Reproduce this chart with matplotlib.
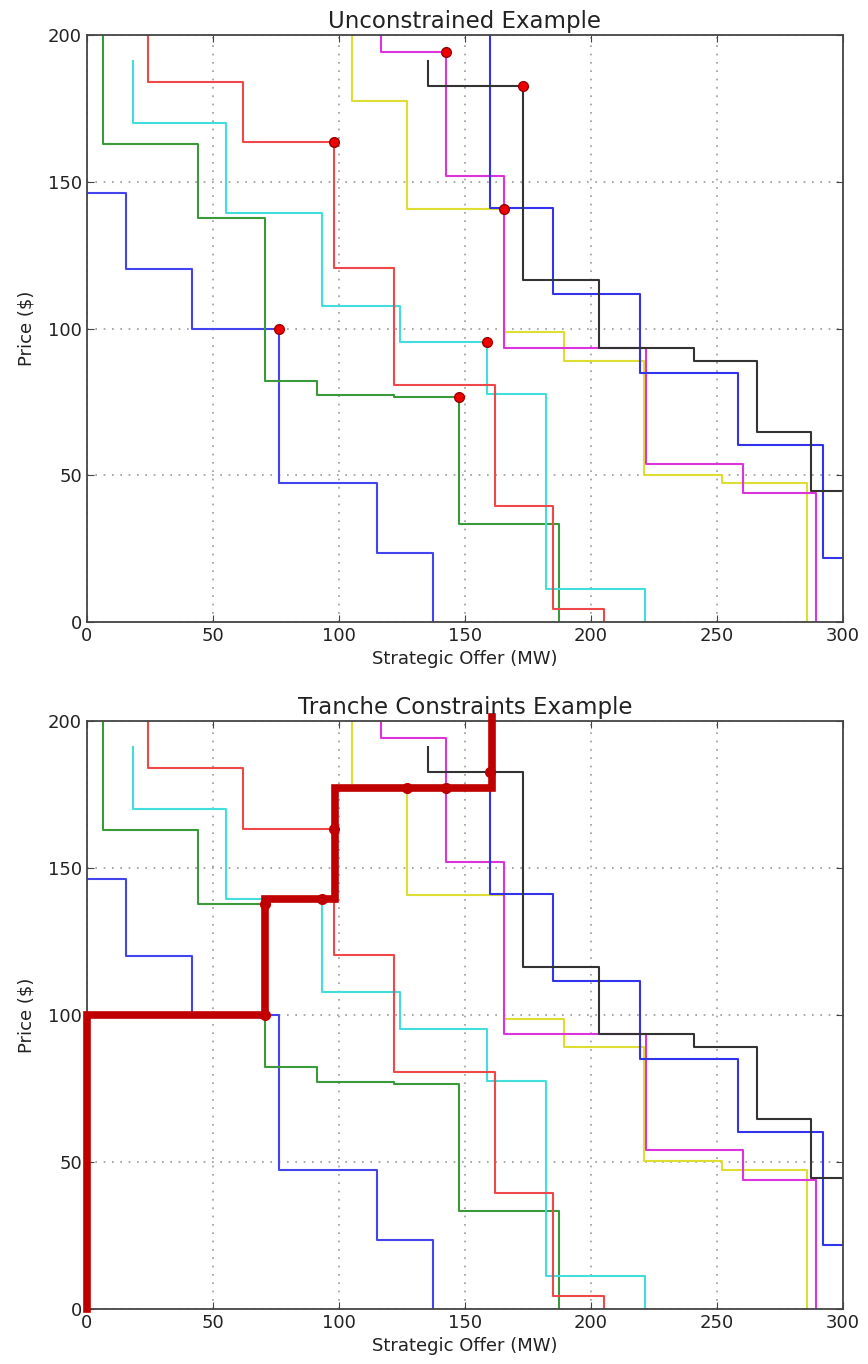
import matplotlib
matplotlib.use('Agg')
import matplotlib.pyplot as plt

# Offer curves: (cumulative MW, price) break points, drawn as steps
blue1_mw = [0, 15.5, 41.5, 76.3, 115.2, 137.3, 137.3]
blue1_price = [146.3, 146.3, 120.2, 100, 47.2, 23.5, 0]

green_mw = [6.2, 44.1, 70.8, 91.2, 122, 147.5, 187.3, 187.3]
green_price = [210, 162.8, 137.8, 82.2, 77.2, 76.6, 33.5, 0]

cyan_mw = [18.4, 55.1, 93.4, 124.4, 158.7, 182, 221.5, 221.5]
cyan_price = [191.2, 170, 139.5, 107.7, 95.3, 77.6, 11.3, 0]

red_mw = [24.1, 62.1, 98.2, 122, 162, 184.8, 205.2, 205.2]
red_price = [210, 184.1, 163.4, 120.5, 80.7, 39.5, 4.4, 0]

yellow_mw = [105.1, 126.8, 165.3, 189.4, 221.2, 251.8, 285.8, 285.8]
yellow_price = [210, 177.5, 140.7, 98.7, 89.1, 50.2, 47.4, 0]

magenta_mw = [116.6, 142.4, 165.3, 221.7, 260.2, 289.1, 289.1]
magenta_price = [210, 194.3, 152, 93.5, 54, 43.9, 0]

blue2_mw = [160, 184.8, 219.3, 258.4, 292.2, 300]
blue2_price = [210, 141.2, 111.6, 85, 60.3, 21.8]

black_mw = [135.2, 173, 203.2, 240.9, 265.8, 287.3, 300]
black_price = [191.2, 182.5, 116.4, 93.5, 89.1, 64.7, 44.6]

# dispatch points
free_mw = [142.4, 173, 98.2, 165.3, 76.3, 158.7, 147.5]
free_price = [194.3, 182.5, 163.4, 140.7, 100, 95.3, 76.6]

tranche_mw = [70.8, 70.8, 93.4, 98.2, 126.8, 142.4, 160]
tranche_price = [100, 137.8, 139.5, 163.4, 177.3, 177.3, 182.5]

# tranche constraint path
limit_mw = [0, 0, 70.7, 70.7, 98.5, 98.5, 160.7, 160.7]
limit_price = [0, 100, 100, 139.3, 139.3, 177.2, 177.2, 201.5]

curves = [
    (blue1_mw, blue1_price, '#4444ee'),
    (green_mw, green_price, '#3a9a3a'),
    (cyan_mw, cyan_price, '#44dddd'),
    (red_mw, red_price, '#f04848'),
    (yellow_mw, yellow_price, '#dddd33'),
    (magenta_mw, magenta_price, '#dd33dd'),
    (blue2_mw, blue2_price, '#3333ee'),
    (black_mw, black_price, '#333333'),
]

fig = plt.figure(figsize=(8.68, 13.64), dpi=100)
ax1 = fig.add_axes([0.1002, 0.544, 0.871, 0.4303])
ax2 = fig.add_axes([0.1002, 0.0403, 0.871, 0.4311])


def style_axes(ax, title):
    for xs, ys, c in curves:
        ax.plot(xs, ys, drawstyle='steps-pre', color=c, lw=1.5, zorder=2)
    ax.set_xlim(0, 300)
    ax.set_ylim(0, 200)
    ax.set_xticks([0, 50, 100, 150, 200, 250, 300])
    ax.set_yticks([0, 50, 100, 150, 200])
    ax.grid(True, linestyle=(0, (1, 4)), color='#999999', lw=1.2)
    ax.tick_params(direction='in', length=5, top=True, right=True,
                   labelsize=13, color='#444444', labelcolor='#222222')
    for s in ax.spines.values():
        s.set_color('#444444')
        s.set_linewidth(1.3)
    ax.set_xlabel('Strategic Offer (MW)', fontsize=13, color='#222222')
    ax.set_ylabel('Price ($)', fontsize=13, labelpad=9, color='#222222')
    ax.set_title(title, fontsize=16.5, pad=5, color='#222222')


style_axes(ax1, 'Unconstrained Example')
ax1.plot(free_mw, free_price, 'o', color='#ee0000', markeredgecolor='#990000',
         markersize=7, zorder=4)

style_axes(ax2, 'Tranche Constraints Example')
ax2.plot(limit_mw, limit_price, color='#c00000', lw=5.5, zorder=3,
         clip_on=False, solid_joinstyle='miter')
ax2.plot(tranche_mw, tranche_price, 'o', color='#c00000', markersize=7,
         zorder=4)

plt.savefig('out.png', dpi=100)
